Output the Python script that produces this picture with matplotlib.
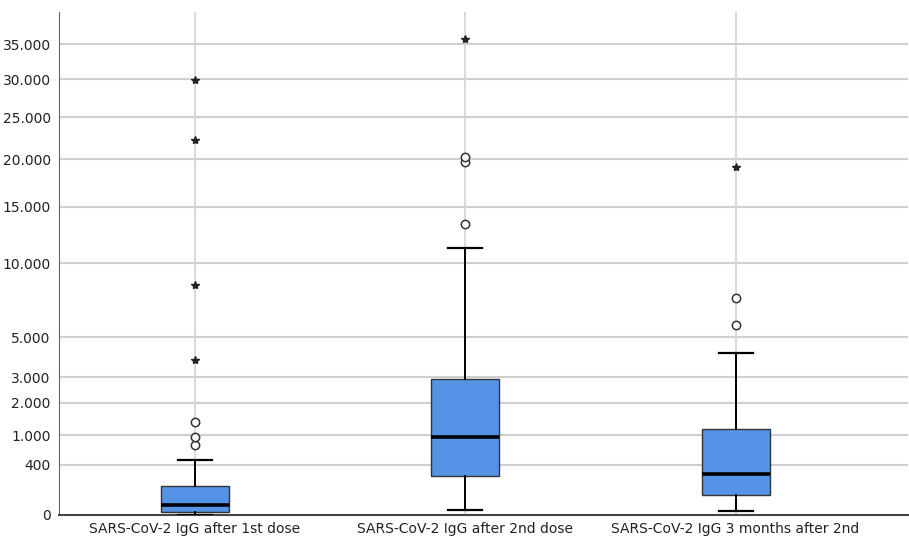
import matplotlib.pyplot as plt
import numpy as np

# values (IgG, sqrt axis)
labels = ['SARS-CoV-2 IgG after 1st dose', 'SARS-CoV-2 IgG after 2nd dose',
          'SARS-CoV-2 IgG 3 months after 2nd']
whislo = [0, 4, 3]
q1 = [1, 243, 63]
med = [16, 965, 261]
q3 = [130, 2943, 1157]
whishi = [476, 11285, 4133]
outliers = [[772, 951, 1371], [13398, 19656, 20295], [5726, 7463]]
extremes = [[3783, 8381, 22228, 29894], [35875], [19103]]
yticks = [0, 400, 1000, 2000, 3000, 5000, 10000, 15000, 20000, 25000, 30000, 35000]

plt.rcParams['font.family'] = ['DejaVu Sans']

fig = plt.figure(figsize=(9.09, 5.38), dpi=100)
ax = fig.add_axes([0.0649, 0.0428, 0.9341, 0.9349])

ax.set_yscale('function', functions=(lambda v: np.sqrt(np.clip(v, 0, None)), lambda v: np.square(v)))

stats = []
for i in range(len(labels)):
    stats.append({'whislo': whislo[i], 'q1': q1[i], 'med': med[i], 'q3': q3[i],
                  'whishi': whishi[i], 'fliers': []})

pos = np.arange(len(labels))
ax.bxp(stats, positions=pos, widths=0.252, capwidths=0.126, patch_artist=True, showfliers=False,
       boxprops=dict(facecolor='#5493e6', edgecolor='#333333', linewidth=1.0),
       medianprops=dict(color='black', linewidth=2.6),
       whiskerprops=dict(color='black', linewidth=1.4),
       capprops=dict(color='black', linewidth=1.6), zorder=3)

for i in range(len(labels)):
    ax.plot([pos[i]] * len(outliers[i]), outliers[i], 'o', ms=6, mfc='white',
            mec='#333333', mew=1.1, zorder=4)
    ax.plot([pos[i]] * len(extremes[i]), extremes[i], '*', ms=6, color='#222222', zorder=4)

# grid lines
for t in yticks[1:]:
    ax.axhline(t, color='#cfcfcf', lw=1.5, zorder=1)
for p in pos:
    ax.axvline(p, color='#d4d4d4', lw=1.2, zorder=1)

ax.set_ylim(0, 40000)
ax.set_xlim(-0.503, 2.638)
ax.set_yticks(yticks)
ax.set_yticklabels([f'{t:,}'.replace(',', '.') for t in yticks])
ax.set_xticks(pos)
ax.set_xticklabels(labels)
ax.tick_params(axis='both', length=0, labelsize=10, colors='#222222')
ax.tick_params(axis='y', pad=6)
ax.tick_params(axis='x', pad=5)

for s in ['top', 'right']:
    ax.spines[s].set_visible(False)
ax.spines['left'].set_color('#666666')
ax.spines['bottom'].set_color('#444444')
ax.spines['bottom'].set_linewidth(1.5)

plt.savefig('out.png', dpi=100)
